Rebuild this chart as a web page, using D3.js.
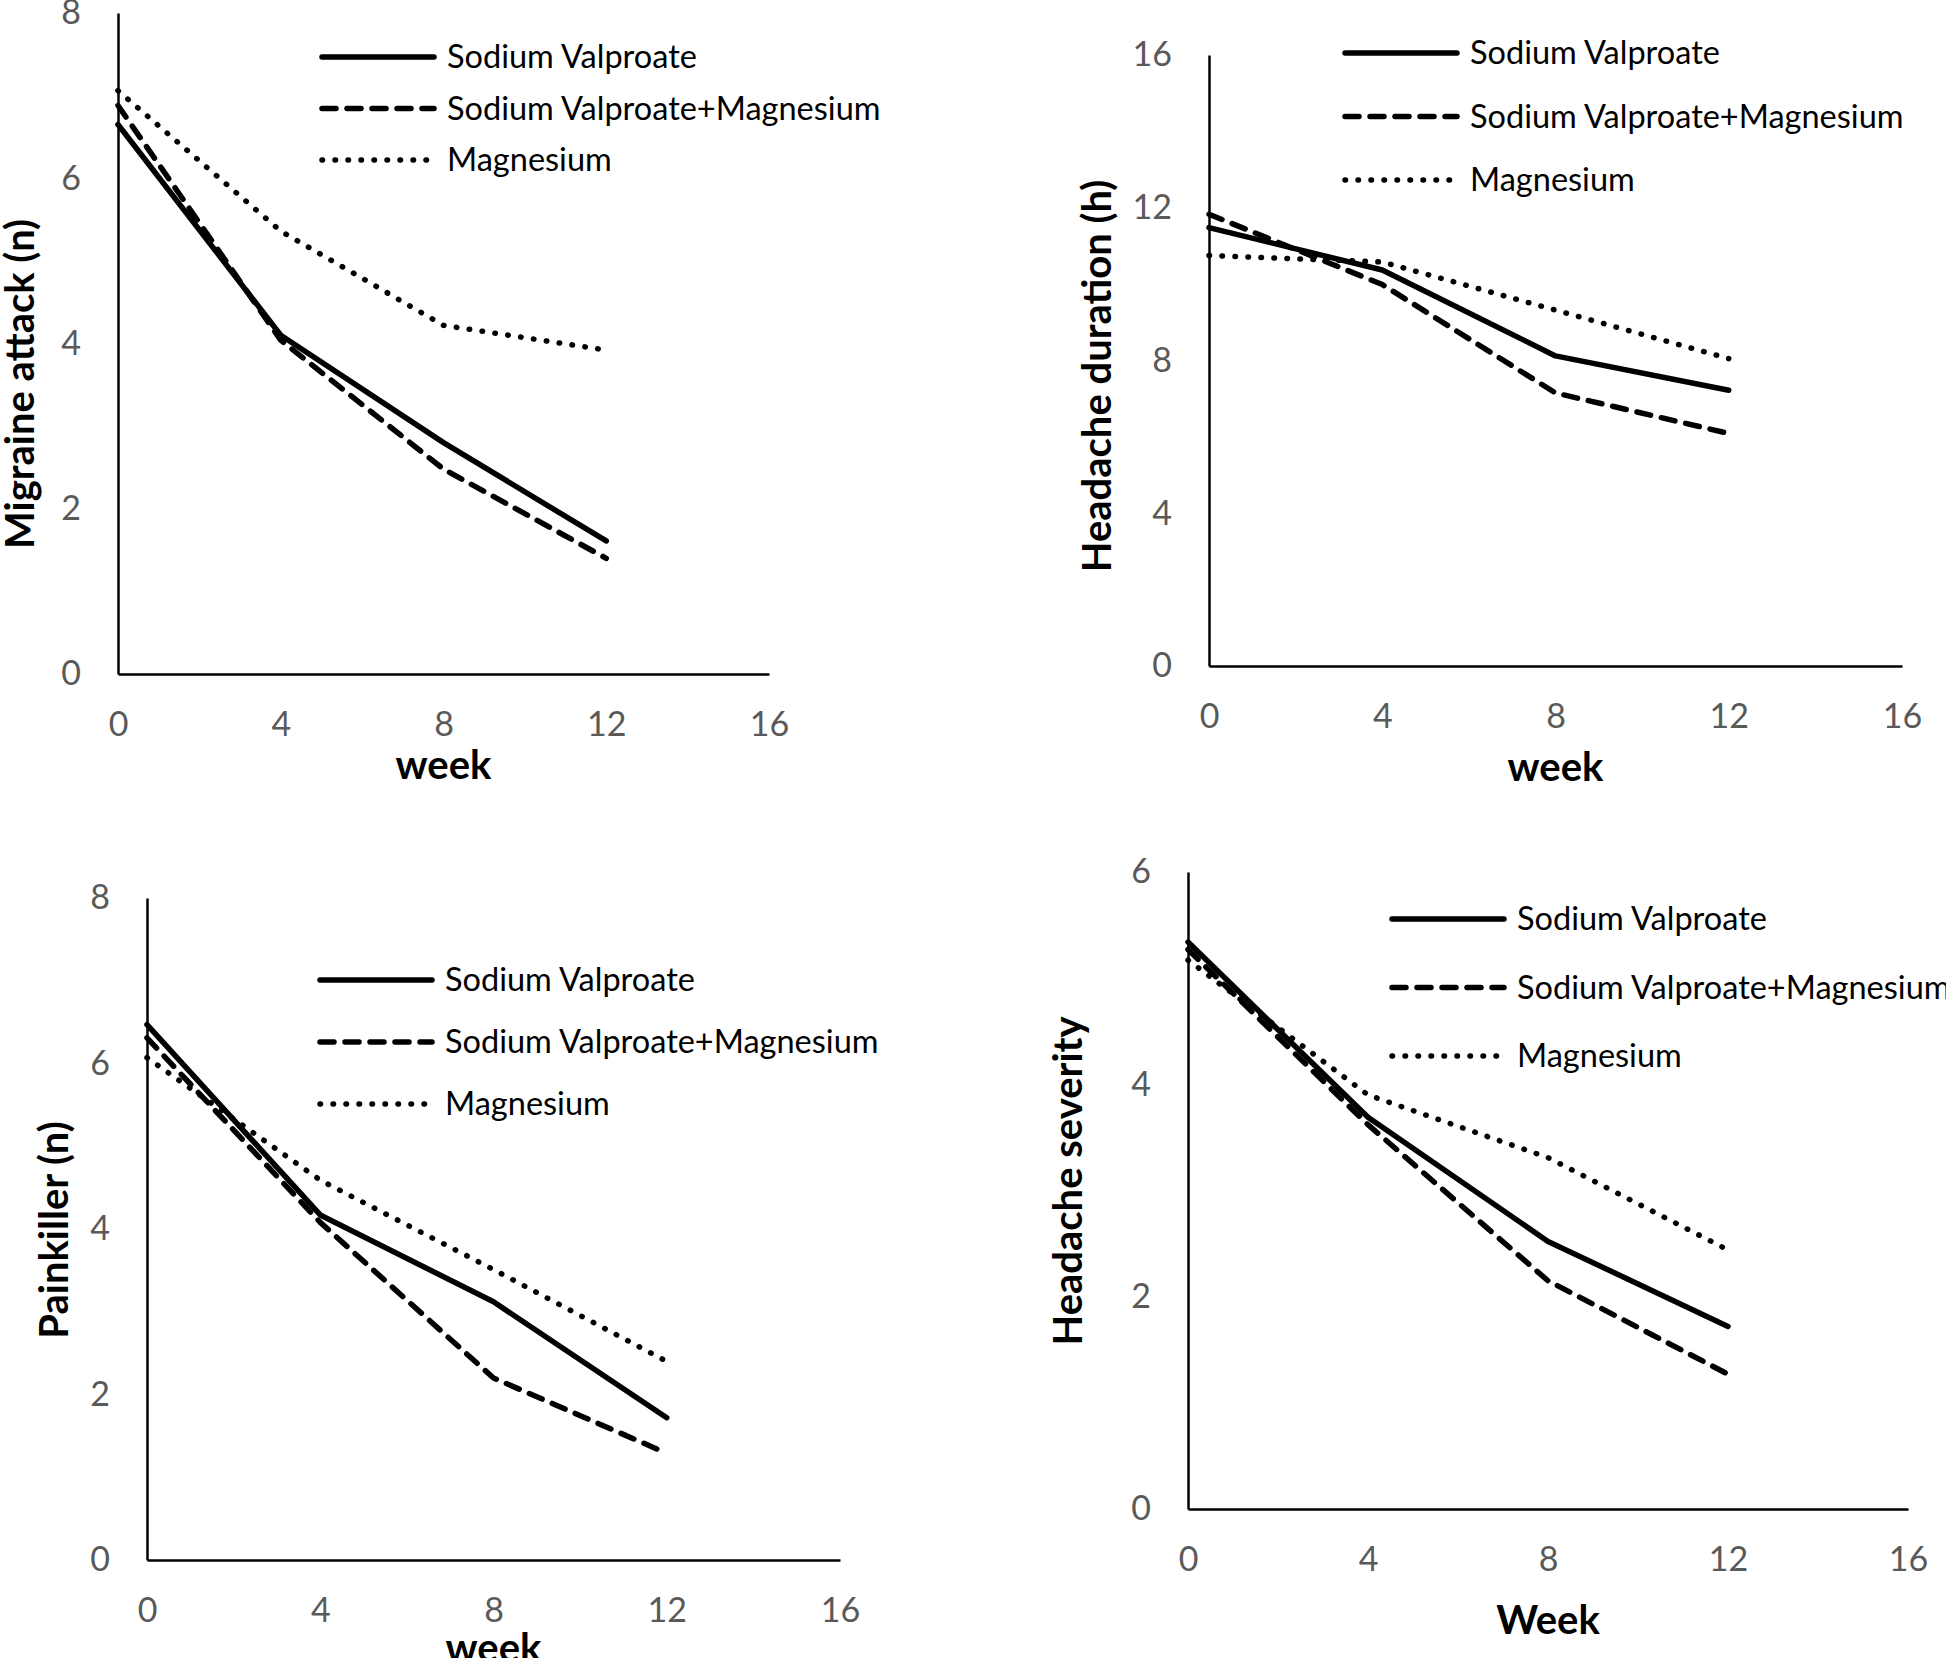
<!DOCTYPE html>
<html>
<head>
<meta charset="utf-8">
<script src="https://cdn.jsdelivr.net/npm/d3@7"></script>
<style>
  body { margin: 0; background: #fff; }
  text { font-family: Lato, "Open Sans", sans-serif; }
</style>
</head>
<body>
<svg id="chart" width="1946" height="1658"></svg>
<script>
// Weeks of follow-up and axis ticks
const weeks = [0, 4, 8, 12];
const xTicks = [0, 4, 8, 12, 16];
const seriesNames = ['Sodium Valproate', 'Sodium Valproate+Magnesium', 'Magnesium'];

// Migraine attack (n)
const attackSV = [6.65, 4.10, 2.80, 1.61];
const attackSVM = [6.88, 4.04, 2.48, 1.40];
const attackMg = [7.06, 5.36, 4.22, 3.92];

// Headache duration (h)
const durationSV = [11.48, 10.37, 8.12, 7.22];
const durationSVM = [11.83, 9.99, 7.15, 6.09];
const durationMg = [10.75, 10.58, 9.32, 8.05];

// Painkiller (n)
const painkillerSV = [6.47, 4.17, 3.12, 1.72];
const painkillerSVM = [6.31, 4.08, 2.20, 1.29];
const painkillerMg = [6.07, 4.59, 3.51, 2.40];

// Headache severity
const severitySV = [5.34, 3.69, 2.52, 1.72];
const severitySVM = [5.27, 3.62, 2.15, 1.27];
const severityMg = [5.17, 3.90, 3.31, 2.44];

// Line style per series: solid, dashed, dotted
const dashes = [null, '14,11', '0.5,12.5'];

// Where each small chart sits on the page
const panels = [
  { series: [attackSV, attackSVM, attackMg], yTicks: [0, 2, 4, 6, 8],
    left: 118, right: 769, top: 13, bottom: 674,
    yTitle: 'Migraine attack (n)', yTitleX: 34, yTitleY: 384,
    xTitle: 'week', xTitleY: 779, legendX: 322, legendY: 57, legendStep: 51.5 },
  { series: [durationSV, durationSVM, durationMg], yTicks: [0, 4, 8, 12, 16],
    left: 1209, right: 1902, top: 55, bottom: 666,
    yTitle: 'Headache duration (h)', yTitleX: 1111, yTitleY: 376,
    xTitle: 'week', xTitleY: 781, legendX: 1345, legendY: 53, legendStep: 63.5 },
  { series: [painkillerSV, painkillerSVM, painkillerMg], yTicks: [0, 2, 4, 6, 8],
    left: 147, right: 840, top: 898, bottom: 1560,
    yTitle: 'Painkiller (n)', yTitleX: 68, yTitleY: 1230,
    xTitle: 'week', xTitleY: 1662, legendX: 320, legendY: 980, legendStep: 62 },
  { series: [severitySV, severitySVM, severityMg], yTicks: [0, 2, 4, 6],
    left: 1188, right: 1908, top: 872, bottom: 1509,
    yTitle: 'Headache severity', yTitleX: 1082, yTitleY: 1181,
    xTitle: 'Week', xTitleY: 1634, legendX: 1392, legendY: 919, legendStep: 68.5 }
];

const svg = d3.select('#chart');

panels.forEach(p => {
  const g = svg.append('g');
  const yMax = p.yTicks[p.yTicks.length - 1];

  const x = d3.scaleLinear().domain([0, 16]).range([p.left, p.right]);
  const y = d3.scaleLinear().domain([0, yMax]).range([p.bottom, p.top]);

  // Axes: no tick marks, grey labels
  const xAxis = g.append('g')
    .attr('transform', 'translate(0,' + p.bottom + ')')
    .call(d3.axisBottom(x).tickValues(xTicks).tickFormat(d3.format('d'))
      .tickSize(0).tickPadding(38));
  const yAxis = g.append('g')
    .attr('transform', 'translate(' + p.left + ',0)')
    .call(d3.axisLeft(y).tickValues(p.yTicks).tickFormat(d3.format('d'))
      .tickSize(0).tickPadding(37));
  [xAxis, yAxis].forEach(a => {
    a.select('.domain').attr('stroke', '#000').attr('stroke-width', 2.5);
    a.selectAll('text')
      .attr('fill', '#595959')
      .style('font-size', '34px')
      .style('font-family', 'Lato, sans-serif');
  });

  // Axis titles
  g.append('text')
    .attr('x', (p.left + p.right) / 2)
    .attr('y', p.xTitleY)
    .attr('text-anchor', 'middle')
    .style('font-size', '40px')
    .style('font-weight', 'bold')
    .text(p.xTitle);
  g.append('text')
    .attr('transform', 'translate(' + p.yTitleX + ',' + p.yTitleY + ') rotate(-90)')
    .attr('text-anchor', 'middle')
    .style('font-size', '40px')
    .style('font-weight', 'bold')
    .text(p.yTitle);

  // Series lines
  const line = d3.line()
    .x((d, i) => x(weeks[i]))
    .y(d => y(d));
  p.series.forEach((values, i) => {
    g.append('path')
      .datum(values)
      .attr('d', line)
      .attr('fill', 'none')
      .attr('stroke', '#000')
      .attr('stroke-width', 5.5)
      .attr('stroke-linecap', 'round')
      .attr('stroke-linejoin', 'round')
      .attr('stroke-dasharray', dashes[i]);
  });

  // Legend
  const legend = g.append('g');
  seriesNames.forEach((name, i) => {
    const ly = p.legendY + i * p.legendStep;
    legend.append('line')
      .attr('x1', p.legendX).attr('x2', p.legendX + 112)
      .attr('y1', ly).attr('y2', ly)
      .attr('stroke', '#000')
      .attr('stroke-width', 5.5)
      .attr('stroke-linecap', 'round')
      .attr('stroke-dasharray', dashes[i]);
    legend.append('text')
      .attr('x', p.legendX + 125)
      .attr('y', ly)
      .attr('dy', '0.35em')
      .style('font-size', '32.5px')
      .text(name);
  });
});
</script>
</body>
</html>
